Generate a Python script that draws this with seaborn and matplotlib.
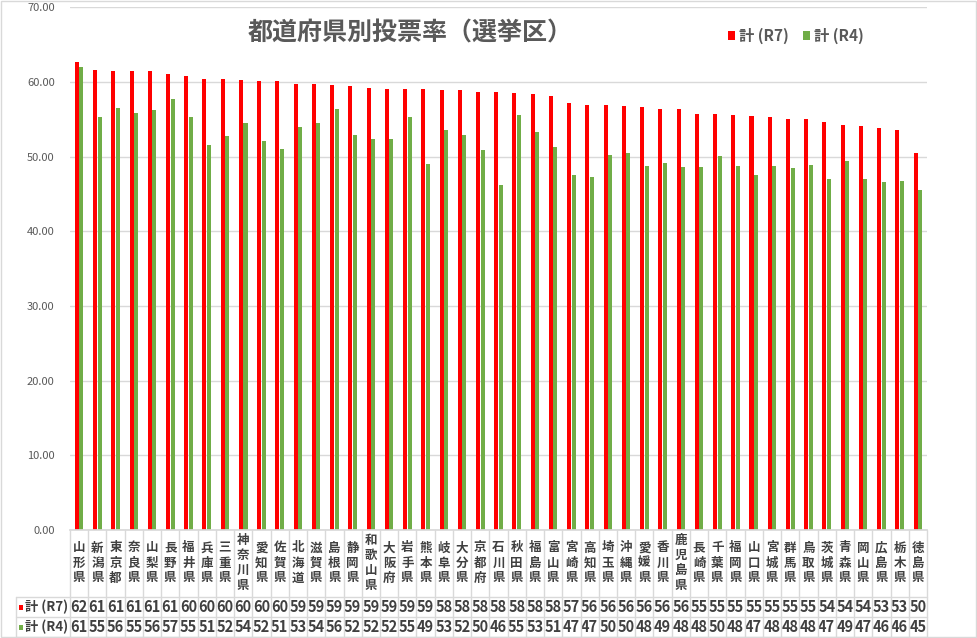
import pandas as pd
import seaborn as sns
import matplotlib.pyplot as plt
from matplotlib import transforms
from matplotlib.lines import Line2D
from matplotlib.patches import Rectangle
from matplotlib.ticker import FormatStrFormatter

# 都道府県別投票率（選挙区）
prefectures = [
    "山形県", "新潟県", "東京都", "奈良県", "山梨県", "長野県", "福井県", "兵庫県",
    "三重県", "神奈川県", "愛知県", "佐賀県", "北海道", "滋賀県", "島根県", "静岡県",
    "和歌山県", "大阪府", "岩手県", "熊本県", "岐阜県", "大分県", "京都府", "石川県",
    "秋田県", "福島県", "富山県", "宮崎県", "高知県", "埼玉県", "沖縄県", "愛媛県",
    "香川県", "鹿児島県", "長崎県", "千葉県", "福岡県", "山口県", "宮城県", "群馬県",
    "鳥取県", "茨城県", "青森県", "岡山県", "広島県", "栃木県", "徳島県",
]
r7 = [
    62.61, 61.67, 61.53, 61.53, 61.53, 61.13, 60.86, 60.45,
    60.45, 60.32, 60.18, 60.18, 59.77, 59.77, 59.64, 59.50,
    59.23, 59.10, 59.10, 59.10, 58.96, 58.96, 58.69, 58.69,
    58.56, 58.42, 58.15, 57.21, 56.94, 56.94, 56.80, 56.67,
    56.40, 56.40, 55.72, 55.72, 55.59, 55.45, 55.32, 55.05,
    55.05, 54.64, 54.23, 54.10, 53.83, 53.56, 50.45,
]
r4 = [
    61.94, 55.32, 56.53, 55.86, 56.26, 57.75, 55.32, 51.53,
    52.75, 54.50, 52.07, 51.02, 53.96, 54.50, 56.40, 52.88,
    52.34, 52.34, 55.32, 49.02, 53.56, 52.88, 50.86, 46.26,
    55.59, 53.29, 51.26, 47.48, 47.21, 50.18, 50.45, 48.69,
    49.10, 48.56, 48.56, 50.02, 48.69, 47.48, 48.69, 48.42,
    48.83, 47.07, 49.37, 47.07, 46.67, 46.80, 45.59,
]
series_names = ["計 (R7)", "計 (R4)"]
colors = ["#FF0000", "#70AD47"]

sns.set_theme(style="white")
plt.rcParams["font.family"] = ["Noto Sans CJK JP", "DejaVu Sans"]

df = pd.DataFrame({"都道府県": prefectures, series_names[0]: r7, series_names[1]: r4})
long_df = df.melt(id_vars="都道府県", var_name="系列", value_name="投票率")

W, H = 977, 638
fig = plt.figure(figsize=(W / 100, H / 100), dpi=100)


def fx(x):
    return x / W


def fy(y):
    return 1 - y / H


ax = fig.add_axes([fx(70), fy(530), fx(927) - fx(70), fy(7.3) - fy(530)])
sns.barplot(data=long_df, x="都道府県", y="投票率", hue="系列", palette=colors,
            saturation=1, width=0.5, gap=0.12, linewidth=0, edgecolor="none", ax=ax)

ax.set_xlim(-0.5, len(prefectures) - 0.5)
ax.set_ylim(0, 70)
ax.set_yticks(range(0, 71, 10))
ax.yaxis.set_major_formatter(FormatStrFormatter("%.2f"))
ax.tick_params(axis="y", length=0, pad=11, labelsize=8, labelcolor="#595959")
ax.tick_params(axis="x", bottom=False, labelbottom=False)
ax.set_xlabel("")
ax.set_ylabel("")
ax.grid(axis="y", color="#d9d9d9", lw=1)
ax.set_axisbelow(True)
for s in ["left", "right", "top"]:
    ax.spines[s].set_visible(False)
ax.spines["bottom"].set_color("#d9d9d9")

# 凡例
handles, labels = ax.get_legend_handles_labels()
ax.legend(handles, labels, loc="center left", bbox_to_anchor=(fx(714), fy(36)),
          bbox_transform=fig.transFigure, ncol=2, frameon=False,
          handlelength=0.5, handleheight=0.5, handletextpad=0.25,
          columnspacing=0.9, prop={"weight": "bold", "size": 11},
          labelcolor="#595959")

# タイトル
fig.text(fx(410), fy(33), "都道府県別投票率（選挙区）", ha="center", va="center",
         fontsize=18, fontweight="bold", color="#595959")

# データテーブル
blend = transforms.blended_transform_factory(ax.transData, fig.transFigure)
txt = "#404040"
for i, name in enumerate(prefectures):
    ax.text(i, fy(563), "\n".join(name), transform=blend, ha="center", va="center",
            fontsize=9, fontweight="bold", color=txt, linespacing=1.2, clip_on=False)
    ax.text(i, fy(607), str(int(r7[i])), transform=blend, ha="center", va="center",
            fontsize=10.5, fontweight="bold", color=txt, clip_on=False)
    ax.text(i, fy(627), str(int(r4[i])), transform=blend, ha="center", va="center",
            fontsize=10.5, fontweight="bold", color=txt, clip_on=False)

grid_c = "#d9d9d9"
for k in range(len(prefectures) + 1):
    fig.add_artist(Line2D([k - 0.5, k - 0.5], [fy(530), fy(637)], transform=blend,
                          color=grid_c, lw=1))
for yy in [597, 617, 637]:
    fig.add_artist(Line2D([fx(16), fx(927)], [fy(yy), fy(yy)],
                          transform=fig.transFigure, color=grid_c, lw=1))
fig.add_artist(Line2D([fx(16), fx(16)], [fy(597), fy(637)],
                      transform=fig.transFigure, color=grid_c, lw=1))

for yy, name, c in [(607, series_names[0], colors[0]), (627, series_names[1], colors[1])]:
    fig.add_artist(Rectangle((fx(19), fy(yy + 3)), 4 / W, 5 / H,
                             transform=fig.transFigure, color=c, lw=0))
    fig.text(fx(25), fy(yy), name, ha="left", va="center", fontsize=9.5,
             fontweight="bold", color=txt)

# 外枠
fig.add_artist(Rectangle((fx(0.5), fy(637)), fx(975), 636.5 / H, transform=fig.transFigure,
                         fill=False, edgecolor=grid_c, lw=1))

fig.savefig("out.png", dpi=100)
